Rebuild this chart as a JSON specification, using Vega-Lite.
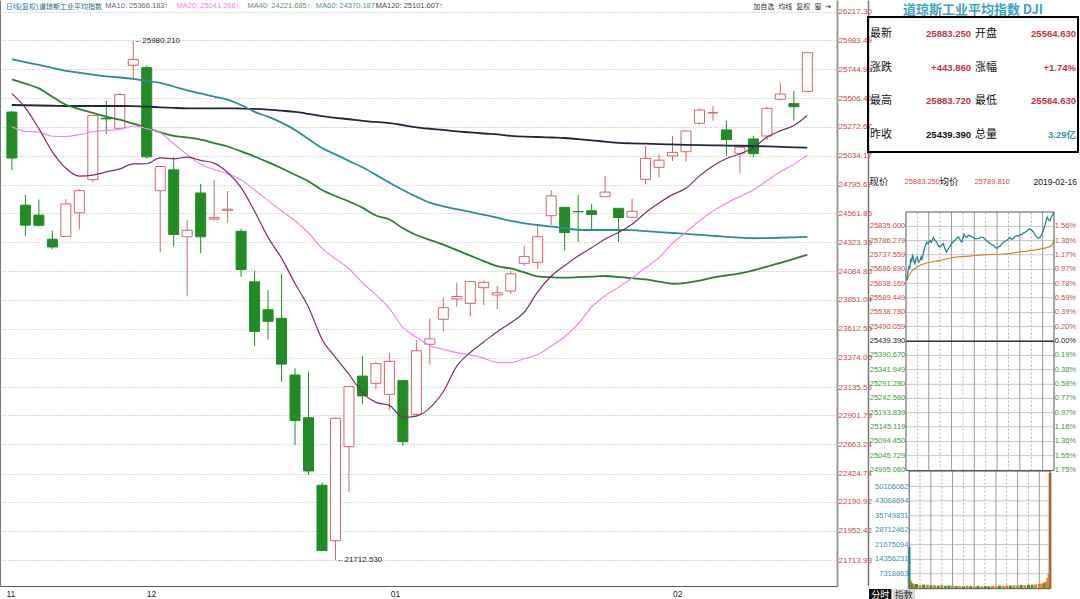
{
  "$schema": "https://vega.github.io/schema/vega-lite/v6.json",
  "padding": 0,
  "background": "#ffffff",
  "config": {"view": {"stroke": null}, "font": "Liberation Sans"},
  "datasets": {
    "candles": [
      {"i":0,"o":25395,"h":25405,"l":24918,"c":25017.44,"ma10":25546.99,"ma20":25273.21,"ma40":25664,"ma60":25829,"ma120":25453},
      {"i":1,"o":24630,"h":24715,"l":24375,"c":24465.64,"ma10":25430.06,"ma20":25236.92,"ma40":25628,"ma60":25806,"ma120":25451},
      {"i":2,"o":24548,"h":24676,"l":24455,"c":24464.69,"ma10":25258.50,"ma20":25230.99,"ma40":25590,"ma60":25782,"ma120":25449},
      {"i":3,"o":24350,"h":24420,"l":24268,"c":24285.95,"ma10":25067.97,"ma20":25196.06,"ma40":25520,"ma60":25758,"ma120":25447},
      {"i":4,"o":24373,"h":24680,"l":24373,"c":24640.24,"ma10":24933.06,"ma20":25193.65,"ma40":25455,"ma60":25734,"ma120":25445},
      {"i":5,"o":24567,"h":24760,"l":24430,"c":24748.73,"ma10":24869.22,"ma20":25208.94,"ma40":25420,"ma60":25718,"ma120":25445},
      {"i":6,"o":24840,"h":25371,"l":24820,"c":25366.43,"ma10":24877.21,"ma20":25233.53,"ma40":25388,"ma60":25702,"ma120":25445},
      {"i":7,"o":25345,"h":25487,"l":25215,"c":25338.84,"ma10":24903.05,"ma20":25244.69,"ma40":25358,"ma60":25688,"ma120":25445},
      {"i":8,"o":25262,"h":25550,"l":25250,"c":25538.46,"ma10":24927.96,"ma20":25252.57,"ma40":25332,"ma60":25679,"ma120":25445},
      {"i":9,"o":25780,"h":25980.21,"l":25675,"c":25826.43,"ma10":24969.29,"ma20":25280.35,"ma40":25300,"ma60":25667,"ma120":25444},
      {"i":10,"o":25760,"h":25778,"l":25010,"c":25027.07,"ma10":24970.25,"ma20":25258.62,"ma40":25268,"ma60":25650,"ma120":25440},
      {"i":11,"o":24749,"h":24955,"l":24242,"c":24947.67,"ma10":25018.45,"ma20":25224.25,"ma40":25228,"ma60":25635,"ma120":25434},
      {"i":12,"o":24920,"h":25025,"l":24290,"c":24388.95,"ma10":25010.88,"ma20":25134.69,"ma40":25200,"ma60":25605,"ma120":25429},
      {"i":13,"o":24370,"h":24508,"l":23881,"c":24423.26,"ma10":25024.61,"ma20":25046.29,"ma40":25186,"ma60":25573,"ma120":25426},
      {"i":14,"o":24730,"h":24805,"l":24235,"c":24370.24,"ma10":24997.61,"ma20":24965.34,"ma40":25168,"ma60":25548,"ma120":25426},
      {"i":15,"o":24515,"h":24834,"l":24505,"c":24527.27,"ma10":24975.46,"ma20":24922.34,"ma40":25140,"ma60":25522,"ma120":25426},
      {"i":16,"o":24587,"h":24746,"l":24486,"c":24597.38,"ma10":24898.56,"ma20":24887.88,"ma40":25112,"ma60":25497,"ma120":25426},
      {"i":17,"o":24415,"h":24436,"l":24040,"c":24100.51,"ma10":24774.72,"ma20":24838.88,"ma40":25072,"ma60":25453,"ma120":25424},
      {"i":18,"o":24000,"h":24091,"l":23470,"c":23592.98,"ma10":24580.18,"ma20":24754.07,"ma40":25030,"ma60":25397,"ma120":25421},
      {"i":19,"o":23770,"h":23933,"l":23527,"c":23675.64,"ma10":24365.10,"ma20":24667.19,"ma40":24983,"ma60":25357,"ma120":25415},
      {"i":20,"o":23700,"h":24064,"l":23179,"c":23323.66,"ma10":24194.76,"ma20":24582.50,"ma40":24933,"ma60":25308,"ma120":25406},
      {"i":21,"o":23234,"h":23290,"l":22659,"c":22859.60,"ma10":23985.95,"ma20":24502.20,"ma40":24880,"ma60":25248,"ma120":25396},
      {"i":22,"o":22883,"h":23262,"l":22412,"c":22445.37,"ma10":23791.59,"ma20":24401.23,"ma40":24826,"ma60":25173,"ma120":25380},
      {"i":23,"o":22328,"h":22349,"l":21792.20,"c":21792.20,"ma10":23528.49,"ma20":24276.55,"ma40":24755,"ma60":25099,"ma120":25362},
      {"i":24,"o":21872,"h":22886,"l":21712.53,"c":22878.45,"ma10":23379.31,"ma20":24188.46,"ma40":24705,"ma60":25047,"ma120":25348},
      {"i":25,"o":22645,"h":23149,"l":22275,"c":23138.82,"ma10":23240.46,"ma20":24107.96,"ma40":24660,"ma60":24994,"ma120":25336},
      {"i":26,"o":23225,"h":23390,"l":22993,"c":23062.40,"ma10":23086.96,"ma20":23992.76,"ma40":24610,"ma60":24941,"ma120":25322},
      {"i":27,"o":23166,"h":23339,"l":23118,"c":23327.46,"ma10":23009.66,"ma20":23892.19,"ma40":24545,"ma60":24879,"ma120":25314},
      {"i":28,"o":23075,"h":23418,"l":22946,"c":23346.24,"ma10":22984.98,"ma20":23782.58,"ma40":24512,"ma60":24815,"ma120":25304},
      {"i":29,"o":23188,"h":23188,"l":22651,"c":22686.22,"ma10":22886.04,"ma20":23625.57,"ma40":24440,"ma60":24754,"ma120":25288},
      {"i":30,"o":22911,"h":23522,"l":22900,"c":23433.16,"ma10":22896.99,"ma20":23545.87,"ma40":24385,"ma60":24700,"ma120":25270},
      {"i":31,"o":23487,"h":23700,"l":23319,"c":23531.35,"ma10":22964.17,"ma20":23475.06,"ma40":24345,"ma60":24650,"ma120":25258},
      {"i":32,"o":23692,"h":23869,"l":23590,"c":23787.45,"ma10":23098.38,"ma20":23444.98,"ma40":24305,"ma60":24620,"ma120":25248},
      {"i":33,"o":23859,"h":23993,"l":23796,"c":23879.12,"ma10":23307.07,"ma20":23417.78,"ma40":24260,"ma60":24597,"ma120":25236},
      {"i":34,"o":23823,"h":24009,"l":23713,"c":24001.92,"ma10":23419.41,"ma20":23399.36,"ma40":24215,"ma60":24574,"ma120":25228},
      {"i":35,"o":23952,"h":24010,"l":23809,"c":23995.95,"ma10":23505.13,"ma20":23372.79,"ma40":24170,"ma60":24551,"ma120":25219},
      {"i":36,"o":23892,"h":23966,"l":23776,"c":23909.84,"ma10":23589.87,"ma20":23338.42,"ma40":24128,"ma60":24527,"ma120":25212},
      {"i":37,"o":23924,"h":24092,"l":23900,"c":24065.59,"ma10":23663.68,"ma20":23336.67,"ma40":24110,"ma60":24500,"ma120":25200},
      {"i":38,"o":24152,"h":24297,"l":24130,"c":24207.16,"ma10":23749.78,"ma20":23367.38,"ma40":24078,"ma60":24481,"ma120":25193},
      {"i":39,"o":24160,"h":24467,"l":24103,"c":24370.10,"ma10":23918.16,"ma20":23402.10,"ma40":24045,"ma60":24467,"ma120":25190},
      {"i":40,"o":24543,"h":24754,"l":24467,"c":24706.35,"ma10":24045.48,"ma20":23471.24,"ma40":24038,"ma60":24454,"ma120":25186},
      {"i":41,"o":24612,"h":24616,"l":24256,"c":24404.48,"ma10":24132.80,"ma20":23548.48,"ma40":24034,"ma60":24441,"ma120":25182},
      {"i":42,"o":24578,"h":24713,"l":24327,"c":24575.62,"ma10":24211.61,"ma20":23654.99,"ma40":24038,"ma60":24428,"ma120":25172},
      {"i":43,"o":24584,"h":24639,"l":24431,"c":24553.24,"ma10":24279.03,"ma20":23793.05,"ma40":24043,"ma60":24426,"ma120":25162},
      {"i":44,"o":24699,"h":24870,"l":24699,"c":24737.20,"ma10":24352.55,"ma20":23885.98,"ma40":24048,"ma60":24426,"ma120":25152},
      {"i":45,"o":24604,"h":24604,"l":24327,"c":24528.22,"ma10":24405.78,"ma20":23955.45,"ma40":24040,"ma60":24426,"ma120":25142},
      {"i":46,"o":24530,"h":24681,"l":24527,"c":24579.96,"ma10":24472.79,"ma20":24031.33,"ma40":24030,"ma60":24424,"ma120":25138},
      {"i":47,"o":24842,"h":25116,"l":24804,"c":25014.86,"ma10":24567.72,"ma20":24115.70,"ma40":24020,"ma60":24417,"ma120":25135},
      {"i":48,"o":24941,"h":25050,"l":24856,"c":24999.67,"ma10":24646.97,"ma20":24198.37,"ma40":24002,"ma60":24409,"ma120":25132},
      {"i":49,"o":25034,"h":25198,"l":24993,"c":25063.89,"ma10":24716.35,"ma20":24317.26,"ma40":23984,"ma60":24401,"ma120":25129},
      {"i":50,"o":25069,"h":25248,"l":24987,"c":25239.37,"ma10":24769.65,"ma20":24407.57,"ma40":23992,"ma60":24394,"ma120":25126},
      {"i":51,"o":25303,"h":25427,"l":25290,"c":25411.52,"ma10":24870.36,"ma20":24501.58,"ma40":24010,"ma60":24386,"ma120":25124},
      {"i":52,"o":25388,"h":25445,"l":25324,"c":25390.30,"ma10":24951.82,"ma20":24581.72,"ma40":24035,"ma60":24378,"ma120":25122},
      {"i":53,"o":25248,"h":25324,"l":25034,"c":25169.53,"ma10":25013.45,"ma20":24646.24,"ma40":24052,"ma60":24370,"ma120":25120},
      {"i":54,"o":25056,"h":25116,"l":24891,"c":25106.33,"ma10":25050.37,"ma20":24701.46,"ma40":24070,"ma60":24363,"ma120":25118},
      {"i":55,"o":25174,"h":25201,"l":25023,"c":25053.11,"ma10":25102.85,"ma20":24754.32,"ma40":24095,"ma60":24358,"ma120":25116},
      {"i":56,"o":25198,"h":25440,"l":25165,"c":25425.76,"ma10":25187.43,"ma20":24830.11,"ma40":24125,"ma60":24359,"ma120":25113},
      {"i":57,"o":25500,"h":25636,"l":25490,"c":25543.27,"ma10":25240.28,"ma20":24904.00,"ma40":24155,"ma60":24362,"ma120":25109},
      {"i":58,"o":25464,"h":25568,"l":25324,"c":25439.39,"ma10":25284.25,"ma20":24965.61,"ma40":24188,"ma60":24366,"ma120":25105},
      {"i":59,"o":25564.63,"h":25883.72,"l":25564.63,"c":25883.25,"ma10":25366.18,"ma20":25041.27,"ma40":24222,"ma60":24370,"ma120":25102}
    ],
    "notes": [
      {"i": 9, "v": 25980.21, "t": "←25980.210"},
      {"i": 24, "v": 21712.53, "t": "←21712.530"}
    ],
    "table": [
      {"row": 1, "side": "L", "label": "最新", "value": "25883.250", "tone": "up"},
      {"row": 1, "side": "R", "label": "开盘", "value": "25564.630", "tone": "up"},
      {"row": 2, "side": "L", "label": "涨跌", "value": "+443.860", "tone": "up"},
      {"row": 2, "side": "R", "label": "涨幅", "value": "+1.74%", "tone": "up"},
      {"row": 3, "side": "L", "label": "最高", "value": "25883.720", "tone": "up"},
      {"row": 3, "side": "R", "label": "最低", "value": "25564.630", "tone": "up"},
      {"row": 4, "side": "L", "label": "昨收", "value": "25439.390", "tone": "flat"},
      {"row": 4, "side": "R", "label": "总量", "value": "3.29亿", "tone": "vol"}
    ],
    "header": [
      {"slot": 1, "text": "现价", "tone": "flat"},
      {"slot": 2, "text": "25883.250", "tone": "up"},
      {"slot": 3, "text": "均价", "tone": "flat"},
      {"slot": 4, "text": "25789.810", "tone": "up"},
      {"slot": 6, "text": "2019-02-16", "tone": "flat"}
    ],
    "levels": [
      {"p": 25835.000, "pct": "1.56%", "tone": "up"},
      {"p": 25786.279, "pct": "1.36%", "tone": "up"},
      {"p": 25737.559, "pct": "1.17%", "tone": "up"},
      {"p": 25686.890, "pct": "0.97%", "tone": "up"},
      {"p": 25638.169, "pct": "0.78%", "tone": "up"},
      {"p": 25589.449, "pct": "0.59%", "tone": "up"},
      {"p": 25538.780, "pct": "0.39%", "tone": "up"},
      {"p": 25490.059, "pct": "0.20%", "tone": "up"},
      {"p": 25439.390, "pct": "0.00%", "tone": "zero"},
      {"p": 25390.670, "pct": "0.19%", "tone": "down"},
      {"p": 25341.949, "pct": "0.38%", "tone": "down"},
      {"p": 25291.280, "pct": "0.58%", "tone": "down"},
      {"p": 25242.560, "pct": "0.77%", "tone": "down"},
      {"p": 25193.839, "pct": "0.97%", "tone": "down"},
      {"p": 25145.119, "pct": "1.16%", "tone": "down"},
      {"p": 25094.450, "pct": "1.36%", "tone": "down"},
      {"p": 25045.729, "pct": "1.55%", "tone": "down"},
      {"p": 24995.060, "pct": "1.75%", "tone": "down"}
    ],
    "hours": [{"m": 60}, {"m": 120}, {"m": 180}, {"m": 240}, {"m": 300}, {"m": 360}],
    "halves": [{"m": 30}, {"m": 90}, {"m": 150}, {"m": 210}, {"m": 270}, {"m": 330}],
    "price": [
      {"m":1.8,"p":25649},{"m":4,"p":25670},{"m":6.1,"p":25684},{"m":8,"p":25700},{"m":10,"p":25690},
      {"m":12.4,"p":25724},{"m":15,"p":25712},{"m":17,"p":25735},{"m":19.2,"p":25730},{"m":21,"p":25716},
      {"m":23.7,"p":25707},{"m":26,"p":25722},{"m":29.8,"p":25730},{"m":33,"p":25712},{"m":36.9,"p":25718},
      {"m":40,"p":25730},{"m":42,"p":25722},{"m":45.6,"p":25741},{"m":50,"p":25765},{"m":54.5,"p":25781},
      {"m":58,"p":25775},{"m":63.2,"p":25787},{"m":67,"p":25780},{"m":71.9,"p":25797},{"m":76,"p":25788},
      {"m":80.9,"p":25781},{"m":85,"p":25768},{"m":89.6,"p":25764},{"m":94,"p":25770},{"m":98.3,"p":25776},
      {"m":102,"p":25760},{"m":107.2,"p":25747},{"m":111.5,"p":25759},{"m":116,"p":25766},{"m":120.4,"p":25776},
      {"m":125,"p":25782},{"m":129.1,"p":25787},{"m":133,"p":25793},{"m":137.8,"p":25799},{"m":142,"p":25790},
      {"m":146.8,"p":25781},{"m":150,"p":25795},{"m":152.8,"p":25808},{"m":156,"p":25800},{"m":159.9,"p":25797},
      {"m":164,"p":25803},{"m":168.6,"p":25804},{"m":173,"p":25800},{"m":177.3,"p":25797},{"m":184,"p":25792},
      {"m":190.5,"p":25793},{"m":197,"p":25797},{"m":203.7,"p":25797},{"m":208,"p":25790},{"m":212.6,"p":25787},
      {"m":217,"p":25781},{"m":221.3,"p":25776},{"m":226,"p":25772},{"m":230,"p":25770},{"m":235,"p":25763},
      {"m":239,"p":25759},{"m":243,"p":25764},{"m":247.7,"p":25767},{"m":252,"p":25773},{"m":256.4,"p":25781},
      {"m":261,"p":25784},{"m":265.3,"p":25787},{"m":270,"p":25792},{"m":274,"p":25797},{"m":278,"p":25791},
      {"m":282.7,"p":25793},{"m":287,"p":25800},{"m":291.7,"p":25804},{"m":296,"p":25801},{"m":300.4,"p":25808},
      {"m":305,"p":25806},{"m":309.1,"p":25812},{"m":314,"p":25815},{"m":318.1,"p":25819},{"m":322,"p":25824},
      {"m":326.7,"p":25827},{"m":331,"p":25822},{"m":335.5,"p":25816},{"m":340,"p":25806},{"m":344.4,"p":25799},
      {"m":349,"p":25794},{"m":353.1,"p":25797},{"m":357,"p":25806},{"m":360.2,"p":25816},{"m":363,"p":25826},
      {"m":366.3,"p":25839},{"m":369,"p":25855},{"m":372.3,"p":25867},{"m":376,"p":25858},{"m":379.4,"p":25854},
      {"m":381.5,"p":25862},{"m":383.9,"p":25870},{"m":386,"p":25874},{"m":388.1,"p":25881},{"m":390,"p":25883}
    ],
    "avg": [
      {"m":1.8,"a":25649},{"m":10.5,"a":25672},{"m":28.2,"a":25695},{"m":54.5,"a":25709},{"m":89.6,"a":25718},
      {"m":124.6,"a":25728},{"m":168.6,"a":25733},{"m":212.6,"a":25738},{"m":256.4,"a":25740},{"m":300.4,"a":25747},
      {"m":344.4,"a":25755},{"m":370.7,"a":25762},{"m":383.9,"a":25770},{"m":390,"a":25789}
    ],
    "volLevels": [
      {"v": 50106062}, {"v": 43068694}, {"v": 35749831}, {"v": 28712462},
      {"v": 21675094}, {"v": 14356231}, {"v": 7318863}
    ],
    "vol": [
      {"m":0,"v":20500000,"dir":"open"},{"m":4,"v":3900000,"dir":"up"},{"m":9,"v":2600000,"dir":"down"},
      {"m":14,"v":2100000,"dir":"up"},{"m":20,"v":2300000,"dir":"down"},{"m":30,"v":1800000,"dir":"up"},
      {"m":40,"v":2000000,"dir":"down"},{"m":50,"v":1900000,"dir":"up"},{"m":60,"v":1600000,"dir":"down"},
      {"m":70,"v":1700000,"dir":"up"},{"m":80,"v":1500000,"dir":"down"},{"m":90,"v":1800000,"dir":"up"},
      {"m":100,"v":1400000,"dir":"down"},{"m":110,"v":1600000,"dir":"down"},{"m":120,"v":1500000,"dir":"up"},
      {"m":130,"v":1300000,"dir":"down"},{"m":140,"v":1400000,"dir":"up"},{"m":150,"v":1200000,"dir":"down"},
      {"m":160,"v":1500000,"dir":"up"},{"m":170,"v":1300000,"dir":"down"},{"m":180,"v":1200000,"dir":"up"},
      {"m":190,"v":1400000,"dir":"down"},{"m":200,"v":1100000,"dir":"up"},{"m":210,"v":1300000,"dir":"down"},
      {"m":220,"v":1200000,"dir":"down"},{"m":230,"v":1400000,"dir":"up"},{"m":240,"v":1300000,"dir":"up"},
      {"m":250,"v":1500000,"dir":"down"},{"m":260,"v":1400000,"dir":"up"},{"m":270,"v":1600000,"dir":"up"},
      {"m":280,"v":1500000,"dir":"down"},{"m":290,"v":1700000,"dir":"up"},{"m":300,"v":1600000,"dir":"up"},
      {"m":310,"v":1800000,"dir":"down"},{"m":320,"v":1700000,"dir":"up"},{"m":330,"v":1900000,"dir":"down"},
      {"m":340,"v":2000000,"dir":"down"},{"m":350,"v":2100000,"dir":"up"},{"m":360,"v":2300000,"dir":"up"},
      {"m":368,"v":2600000,"dir":"up"},{"m":375,"v":3000000,"dir":"down"},{"m":380,"v":3500000,"dir":"up"},
      {"m":384,"v":5200000,"dir":"up"},{"m":387,"v":7300000,"dir":"up"},{"m":389.5,"v":56800000,"dir":"up"}
    ],
    "tabs": [
      {"tab": "分时", "state": "on"},
      {"tab": "指数", "state": "off"}
    ]
  },
  "spacing": 31,
  "bounds": "flush",
  "resolve": {"scale": {"color": "independent"}},
  "hconcat": [
    {
      "width": 837,
      "height": 586,
      "data": {"name": "candles"},
      "resolve": {"axis": {"x": "independent", "y": "independent"}},
      "layer": [
        {
          "mark": {"type": "rule", "strokeWidth": 1},
          "encoding": {
            "x": {
              "field": "i", "type": "quantitative",
              "scale": {"domain": [-0.513, 60.83], "nice": false, "zero": false},
              "axis": {
                "orient": "top", "offset": -11, "domain": false, "ticks": false, "grid": false, "title": null,
                "values": [-0.5, 1.98, 6.89, 12.17, 17.44, 22.5, 26.95, 54.95, 56.8, 58.15, 59.5, 60.25],
                "labelExpr": "datum.value < 0 ? '日线(复权)' : datum.value < 3 ? '道琼斯工业平均指数' : datum.value < 10 ? 'MA10: 25366.183↑' : datum.value < 15 ? 'MA20: 25041.266↑' : datum.value < 20 ? 'MA40: 24221.685↑' : datum.value < 25 ? 'MA60: 24370.187↑' : datum.value < 30 ? 'MA120: 25101.607↑' : datum.value < 56 ? '加自选' : datum.value < 57.5 ? '均线' : datum.value < 59 ? '复权' : datum.value < 60 ? '窗' : '⇥'",
                "labelAlign": "left", "labelBaseline": "bottom", "labelPadding": 2,
                "labelFontSize": {"condition": {"test": "datum.value < 3 || datum.value > 50", "value": 7}, "value": 7.5},
                "labelFont": "Liberation Sans, Noto Sans CJK SC",
                "labelOverlap": false, "labelFlush": false,
                "labelColor": {
                  "condition": [
                    {"test": "datum.value < 0", "value": "#2b7bb5"},
                    {"test": "datum.value < 3", "value": "#2a6878"},
                    {"test": "datum.value < 10", "value": "#6e5a7e"},
                    {"test": "datum.value < 15", "value": "#ee82ee"},
                    {"test": "datum.value < 20", "value": "#5f8f5f"},
                    {"test": "datum.value < 25", "value": "#4f8f9a"},
                    {"test": "datum.value < 30", "value": "#444c55"}
                  ],
                  "value": "#333333"
                }
              }
            },
            "y": {
              "field": "l", "type": "quantitative",
              "scale": {"domain": [21500.3, 26315.9], "nice": false, "zero": false},
              "axis": {
                "orient": "right", "title": null, "ticks": false,
                "values": [26217.30, 25983.49, 25744.98, 25506.49, 25272.67, 25034.17, 24795.67, 24561.85, 24323.36, 24084.86, 23851.04, 23612.55, 23374.05, 23135.55, 22901.73, 22663.24, 22424.74, 22190.92, 21952.42, 21713.93],
                "format": ".2f", "labelColor": "#c44848", "labelFontSize": 8,
                "labelFont": "Liberation Sans", "labelPadding": 1,
                "labelOverlap": false, "labelFlush": false,
                "domainColor": "#999999", "domainWidth": 2,
                "grid": true, "gridColor": "#b4b4b4", "gridDash": [1, 2], "gridWidth": 1
              }
            },
            "y2": {"field": "h"},
            "color": {"condition": {"test": "datum.c >= datum.o", "value": "#d5646a"}, "value": "#1f8d24"}
          }
        },
        {
          "mark": {"type": "bar", "width": 10, "strokeWidth": 1},
          "encoding": {
            "x": {
              "field": "i", "type": "quantitative",
              "scale": {"domain": [-0.513, 60.83], "nice": false, "zero": false},
              "axis": {
                "orient": "bottom", "title": null, "grid": false, "ticks": false,
                "values": [-0.44, 9.96, 28.06, 49.0],
                "labelExpr": "datum.value < 0 ? '11' : datum.value < 20 ? '12' : datum.value < 40 ? '01' : '02'",
                "labelAlign": "left", "labelFontSize": 8.5, "labelColor": "#222222", "labelPadding": 3,
                "labelFlush": false, "labelOverlap": false,
                "domainColor": "#555555"
              }
            },
            "y": {
              "field": "o", "type": "quantitative",
              "scale": {"domain": [21500.3, 26315.9], "nice": false, "zero": false},
              "axis": {"orient": "right", "offset": 31, "labels": false, "ticks": false, "grid": false, "title": null, "domainColor": "#777777", "domainWidth": 1.5}
            },
            "y2": {"field": "c"},
            "fill": {"condition": {"test": "datum.c >= datum.o", "value": "#ffffff"}, "value": "#1f8d24"},
            "stroke": {"condition": {"test": "datum.c >= datum.o", "value": "#d5646a"}, "value": "#1f8d24"}
          }
        },
        {
          "mark": {"type": "line", "color": "#1c2b3c", "strokeWidth": 1.8, "interpolate": "monotone"},
          "encoding": {
            "x": {"field": "i", "type": "quantitative", "scale": {"domain": [-0.513, 60.83], "nice": false, "zero": false}, "axis": null},
            "y": {
              "field": "ma120", "type": "quantitative",
              "scale": {"domain": [21500.3, 26315.9], "nice": false, "zero": false},
              "axis": {"orient": "left", "labels": false, "ticks": false, "grid": false, "title": null, "domainColor": "#777777", "domainWidth": 1}
            }
          }
        },
        {
          "mark": {"type": "line", "color": "#25909a", "strokeWidth": 1.8, "interpolate": "monotone"},
          "encoding": {
            "x": {"field": "i", "type": "quantitative", "scale": {"domain": [-0.513, 60.83], "nice": false, "zero": false}, "axis": null},
            "y": {"field": "ma60", "type": "quantitative", "scale": {"domain": [21500.3, 26315.9], "nice": false, "zero": false}, "axis": null}
          }
        },
        {
          "mark": {"type": "line", "color": "#2e7d2e", "strokeWidth": 1.8, "interpolate": "monotone"},
          "encoding": {
            "x": {"field": "i", "type": "quantitative", "scale": {"domain": [-0.513, 60.83], "nice": false, "zero": false}, "axis": null},
            "y": {"field": "ma40", "type": "quantitative", "scale": {"domain": [21500.3, 26315.9], "nice": false, "zero": false}, "axis": null}
          }
        },
        {
          "mark": {"type": "line", "color": "#ee88ee", "strokeWidth": 1.2, "interpolate": "monotone"},
          "encoding": {
            "x": {"field": "i", "type": "quantitative", "scale": {"domain": [-0.513, 60.83], "nice": false, "zero": false}, "axis": null},
            "y": {"field": "ma20", "type": "quantitative", "scale": {"domain": [21500.3, 26315.9], "nice": false, "zero": false}, "axis": null}
          }
        },
        {
          "mark": {"type": "line", "color": "#7b2d70", "strokeWidth": 1.2, "interpolate": "monotone"},
          "encoding": {
            "x": {"field": "i", "type": "quantitative", "scale": {"domain": [-0.513, 60.83], "nice": false, "zero": false}, "axis": null},
            "y": {"field": "ma10", "type": "quantitative", "scale": {"domain": [21500.3, 26315.9], "nice": false, "zero": false}, "axis": null}
          }
        },
        {
          "data": {"name": "notes"},
          "mark": {"type": "text", "align": "left", "dx": 1, "fontSize": 8, "color": "#222222"},
          "encoding": {
            "x": {"field": "i", "type": "quantitative", "scale": {"domain": [-0.513, 60.83], "nice": false, "zero": false}, "axis": null},
            "y": {"field": "v", "type": "quantitative", "scale": {"domain": [21500.3, 26315.9], "nice": false, "zero": false}, "axis": null},
            "text": {"field": "t"}
          }
        }
      ]
    },
    {
      "spacing": 0,
      "bounds": "flush",
      "resolve": {"scale": {"color": "independent"}},
      "vconcat": [
        {
          "width": 210,
          "height": 17,
          "data": {"values": [{"name": "道琼斯工业平均指数 DJI"}]},
          "mark": {"type": "text", "font": "Noto Sans CJK SC", "fontSize": 13, "fontWeight": "bold", "color": "#3aa3c3", "baseline": "middle", "dy": 1},
          "encoding": {"text": {"field": "name"}}
        },
        {
          "width": 210,
          "height": 135,
          "view": {"stroke": "#000000", "strokeWidth": 2},
          "data": {"name": "table"},
          "layer": [
            {
              "mark": {"type": "text", "align": "left", "dx": 2, "fontSize": 11, "font": "Noto Sans CJK SC", "color": "#111111"},
              "encoding": {
                "y": {"field": "row", "type": "ordinal", "axis": null},
                "x": {"field": "side", "type": "nominal", "axis": null, "bandPosition": 0, "scale": {"type": "band", "domain": ["L", "R"], "paddingInner": 0, "paddingOuter": 0}},
                "text": {"field": "label"}
              }
            },
            {
              "mark": {"type": "text", "align": "right", "dx": -2, "fontSize": 9.5, "fontWeight": "bold", "font": "Liberation Sans, Noto Sans CJK SC"},
              "encoding": {
                "y": {"field": "row", "type": "ordinal", "axis": null},
                "x": {"field": "side", "type": "nominal", "axis": null, "bandPosition": 1, "scale": {"type": "band", "domain": ["L", "R"], "paddingInner": 0, "paddingOuter": 0}},
                "text": {"field": "value"},
                "color": {"field": "tone", "type": "nominal", "legend": null, "scale": {"domain": ["up", "flat", "vol"], "range": ["#c8323c", "#111111", "#2a9aa8"]}}
              }
            }
          ]
        },
        {
          "width": 210,
          "height": 59.7,
          "data": {"name": "header"},
          "layer": [
            {
              "transform": [{"filter": "datum.slot < 6"}],
              "mark": {"type": "text", "align": "left", "dx": 1.5, "fontSize": 7.5, "font": "Liberation Sans, Noto Sans CJK SC"},
              "encoding": {
                "x": {"field": "slot", "type": "ordinal", "axis": null, "bandPosition": 0, "scale": {"type": "band", "domain": [1, 2, 3, 4, 5, 6], "paddingInner": 0, "paddingOuter": 0}},
                "text": {"field": "text"},
                "size": {"field": "tone", "type": "nominal", "legend": null, "scale": {"domain": ["up", "flat"], "range": [7.5, 9.5]}},
                "color": {"field": "tone", "type": "nominal", "legend": null, "scale": {"domain": ["up", "flat"], "range": ["#d04848", "#111111"]}}
              }
            },
            {
              "transform": [{"filter": "datum.slot == 6"}],
              "mark": {"type": "text", "align": "right", "dx": -1, "fontSize": 8.5, "font": "Liberation Sans", "color": "#111111"},
              "encoding": {
                "x": {"field": "slot", "type": "ordinal", "axis": null, "bandPosition": 1, "scale": {"type": "band", "domain": [1, 2, 3, 4, 5, 6], "paddingInner": 0, "paddingOuter": 0}},
                "text": {"field": "text"}
              }
            }
          ]
        },
        {
          "width": 210,
          "height": 258.6,
          "layer": [
            {
              "data": {"name": "levels"},
              "mark": {"type": "rule", "color": "#c8c8c8", "strokeWidth": 1},
              "encoding": {
                "y": {"field": "p", "type": "quantitative", "scale": {"domain": [24994.2, 25884.6], "nice": false, "zero": false}, "axis": null},
                "x": {"datum": 0, "type": "quantitative", "scale": {"domain": [-100.1, 453.2], "nice": false, "zero": false}, "axis": null},
                "x2": {"datum": 390}
              }
            },
            {
              "data": {"name": "hours"},
              "mark": {"type": "rule", "color": "#9a9a9a", "strokeWidth": 1},
              "encoding": {
                "x": {"field": "m", "type": "quantitative", "scale": {"domain": [-100.1, 453.2], "nice": false, "zero": false}, "axis": null},
                "y": {"datum": 24994.2, "type": "quantitative", "scale": {"domain": [24994.2, 25884.6], "nice": false, "zero": false}, "axis": null},
                "y2": {"datum": 25884.6}
              }
            },
            {
              "data": {"name": "halves"},
              "mark": {"type": "rule", "color": "#b0b0b0", "strokeWidth": 1, "strokeDash": [2, 2]},
              "encoding": {
                "x": {"field": "m", "type": "quantitative", "scale": {"domain": [-100.1, 453.2], "nice": false, "zero": false}, "axis": null},
                "y": {"datum": 24994.2, "type": "quantitative", "scale": {"domain": [24994.2, 25884.6], "nice": false, "zero": false}, "axis": null},
                "y2": {"datum": 25884.6}
              }
            },
            {
              "data": {"name": "levels"},
              "transform": [{"filter": "datum.tone == 'zero'"}],
              "mark": {"type": "rule", "color": "#333333", "strokeWidth": 1.5},
              "encoding": {
                "y": {"field": "p", "type": "quantitative", "scale": {"domain": [24994.2, 25884.6], "nice": false, "zero": false}, "axis": null},
                "x": {"datum": 0, "type": "quantitative", "scale": {"domain": [-100.1, 453.2], "nice": false, "zero": false}, "axis": null},
                "x2": {"datum": 390}
              }
            },
            {
              "data": {"name": "levels"},
              "mark": {"type": "text", "align": "right", "fontSize": 7.5, "font": "Liberation Sans"},
              "encoding": {
                "y": {"field": "p", "type": "quantitative", "scale": {"domain": [24994.2, 25884.6], "nice": false, "zero": false}, "axis": null},
                "x": {"datum": -2, "type": "quantitative", "scale": {"domain": [-100.1, 453.2], "nice": false, "zero": false}, "axis": null},
                "text": {"field": "p", "type": "quantitative", "format": ".3f"},
                "color": {"field": "tone", "type": "nominal", "legend": null, "scale": {"domain": ["up", "zero", "down"], "range": ["#d04848", "#222222", "#3a9a3a"]}}
              }
            },
            {
              "data": {"name": "levels"},
              "mark": {"type": "text", "align": "left", "fontSize": 7.5, "font": "Liberation Sans"},
              "encoding": {
                "y": {"field": "p", "type": "quantitative", "scale": {"domain": [24994.2, 25884.6], "nice": false, "zero": false}, "axis": null},
                "x": {"datum": 392, "type": "quantitative", "scale": {"domain": [-100.1, 453.2], "nice": false, "zero": false}, "axis": null},
                "text": {"field": "pct"},
                "color": {"field": "tone", "type": "nominal", "legend": null, "scale": {"domain": ["up", "zero", "down"], "range": ["#d04848", "#222222", "#3a9a3a"]}}
              }
            },
            {
              "data": {"name": "avg"},
              "mark": {"type": "line", "color": "#c98a2c", "strokeWidth": 1.2, "interpolate": "monotone"},
              "encoding": {
                "x": {"field": "m", "type": "quantitative", "scale": {"domain": [-100.1, 453.2], "nice": false, "zero": false}, "axis": null},
                "y": {"field": "a", "type": "quantitative", "scale": {"domain": [24994.2, 25884.6], "nice": false, "zero": false}, "axis": null}
              }
            },
            {
              "data": {"name": "price"},
              "mark": {"type": "line", "color": "#1b8a8f", "strokeWidth": 1.3},
              "encoding": {
                "x": {"field": "m", "type": "quantitative", "scale": {"domain": [-100.1, 453.2], "nice": false, "zero": false}, "axis": null},
                "y": {"field": "p", "type": "quantitative", "scale": {"domain": [24994.2, 25884.6], "nice": false, "zero": false}, "axis": null}
              }
            },
            {
              "data": {"values": [{}]},
              "mark": {"type": "rect", "fill": "transparent", "stroke": "#555555", "strokeWidth": 1},
              "encoding": {
                "x": {"datum": 0, "type": "quantitative", "scale": {"domain": [-100.1, 453.2], "nice": false, "zero": false}, "axis": null},
                "x2": {"datum": 390},
                "y": {"datum": 24994.2, "type": "quantitative", "scale": {"domain": [24994.2, 25884.6], "nice": false, "zero": false}, "axis": null},
                "y2": {"datum": 25884.6}
              }
            }
          ]
        },
        {
          "width": 210,
          "height": 117.7,
          "layer": [
            {
              "data": {"name": "volLevels"},
              "mark": {"type": "rule", "color": "#c8c8c8", "strokeWidth": 1},
              "encoding": {
                "y": {"field": "v", "type": "quantitative", "scale": {"domain": [0, 57720000], "nice": false, "zero": false}, "axis": null},
                "x": {"datum": 0, "type": "quantitative", "scale": {"domain": [-100.1, 453.2], "nice": false, "zero": false}, "axis": null},
                "x2": {"datum": 390}
              }
            },
            {
              "data": {"name": "hours"},
              "mark": {"type": "rule", "color": "#9a9a9a", "strokeWidth": 1},
              "encoding": {
                "x": {"field": "m", "type": "quantitative", "scale": {"domain": [-100.1, 453.2], "nice": false, "zero": false}, "axis": null},
                "y": {"datum": 0, "type": "quantitative", "scale": {"domain": [0, 57720000], "nice": false, "zero": false}, "axis": null},
                "y2": {"datum": 57720000}
              }
            },
            {
              "data": {"name": "halves"},
              "mark": {"type": "rule", "color": "#b0b0b0", "strokeWidth": 1, "strokeDash": [2, 2]},
              "encoding": {
                "x": {"field": "m", "type": "quantitative", "scale": {"domain": [-100.1, 453.2], "nice": false, "zero": false}, "axis": null},
                "y": {"datum": 0, "type": "quantitative", "scale": {"domain": [0, 57720000], "nice": false, "zero": false}, "axis": null},
                "y2": {"datum": 57720000}
              }
            },
            {
              "data": {"name": "volLevels"},
              "mark": {"type": "text", "align": "right", "fontSize": 7.5, "font": "Liberation Sans", "color": "#3a8fb3"},
              "encoding": {
                "y": {"field": "v", "type": "quantitative", "scale": {"domain": [0, 57720000], "nice": false, "zero": false}, "axis": null},
                "x": {"datum": -2, "type": "quantitative", "scale": {"domain": [-100.1, 453.2], "nice": false, "zero": false}, "axis": null},
                "text": {"field": "v", "type": "quantitative", "format": "d"}
              }
            },
            {
              "data": {"name": "vol"},
              "mark": {"type": "bar", "width": 3},
              "encoding": {
                "x": {"field": "m", "type": "quantitative", "scale": {"domain": [-100.1, 453.2], "nice": false, "zero": false}, "axis": null},
                "y": {"field": "v", "type": "quantitative", "scale": {"domain": [0, 57720000], "nice": false, "zero": false}, "axis": null},
                "color": {"field": "dir", "type": "nominal", "legend": null, "scale": {"domain": ["open", "up", "down"], "range": ["#3fb2c8", "#d6862a", "#4a8c2a"]}}
              }
            },
            {
              "data": {"values": [{}]},
              "mark": {"type": "rect", "fill": "transparent", "stroke": "#555555", "strokeWidth": 1},
              "encoding": {
                "x": {"datum": 0, "type": "quantitative", "scale": {"domain": [-100.1, 453.2], "nice": false, "zero": false}, "axis": null},
                "x2": {"datum": 390},
                "y": {"datum": 0, "type": "quantitative", "scale": {"domain": [0, 57720000], "nice": false, "zero": false}, "axis": null},
                "y2": {"datum": 57720000}
              }
            }
          ]
        },
        {
          "width": 210,
          "height": 11,
          "data": {"name": "tabs"},
          "resolve": {"scale": {"color": "independent"}},
          "layer": [
            {
              "mark": {"type": "bar"},
              "encoding": {
                "x": {"field": "tab", "type": "nominal", "sort": null, "axis": null, "scale": {"range": [1, 47], "paddingInner": 0.05, "paddingOuter": 0}},
                "color": {"field": "state", "type": "nominal", "legend": null, "scale": {"domain": ["on", "off"], "range": ["#111111", "#d8d8d8"]}}
              }
            },
            {
              "mark": {"type": "text", "fontSize": 9, "font": "Noto Sans CJK SC"},
              "encoding": {
                "x": {"field": "tab", "type": "nominal", "sort": null, "axis": null, "scale": {"range": [1, 47], "paddingInner": 0.05, "paddingOuter": 0}},
                "text": {"field": "tab"},
                "color": {"field": "state", "type": "nominal", "legend": null, "scale": {"domain": ["on", "off"], "range": ["#ffffff", "#333333"]}}
              }
            }
          ]
        }
      ]
    }
  ]
}
